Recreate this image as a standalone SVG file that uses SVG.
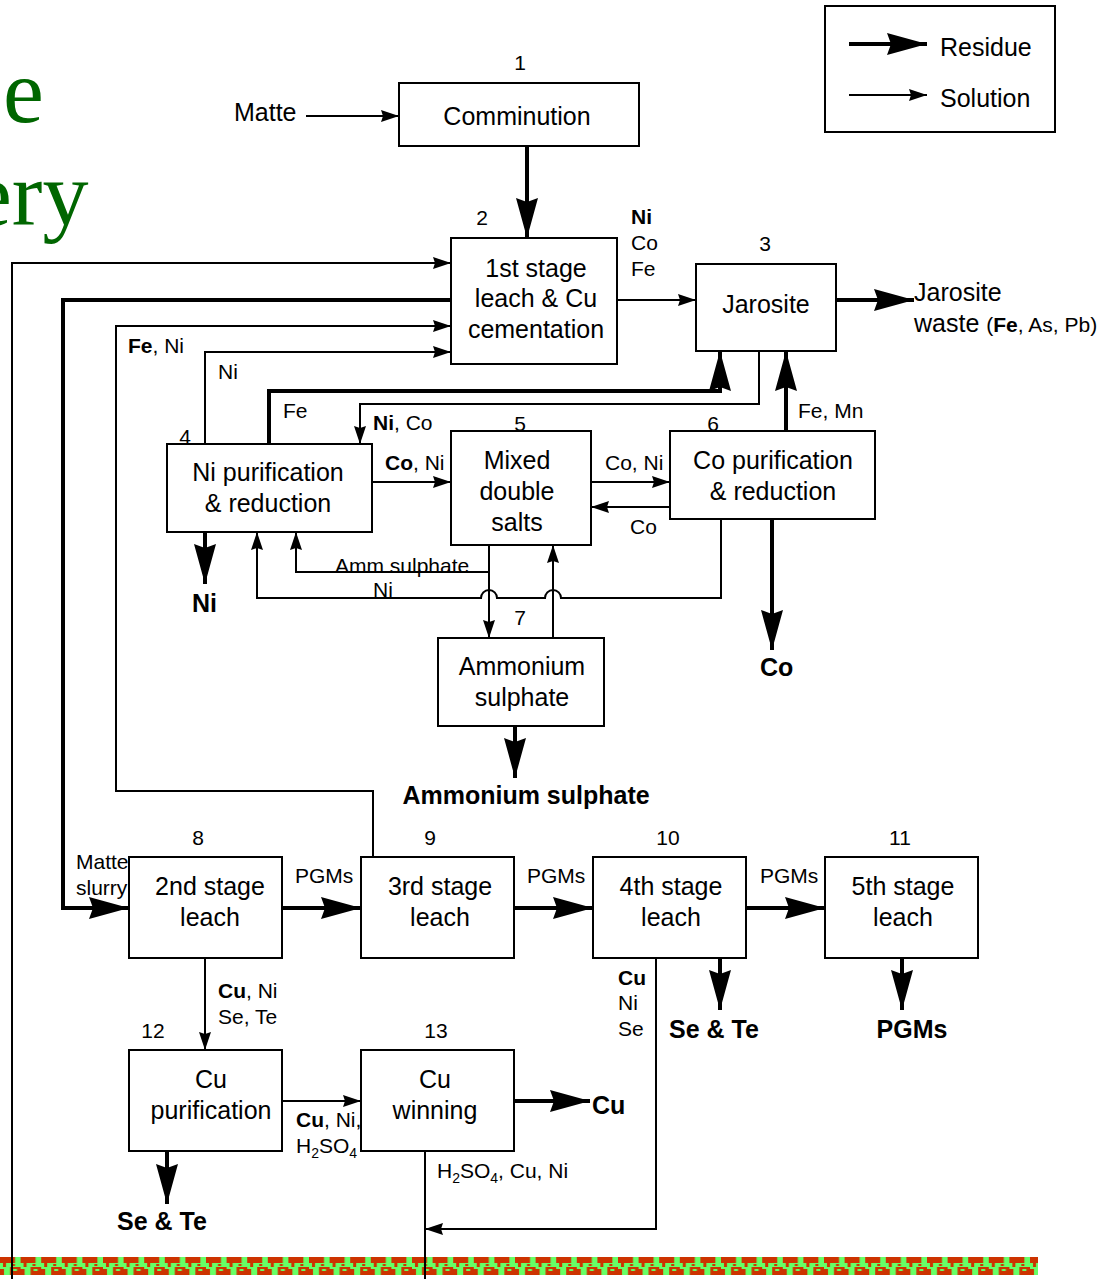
<svg xmlns="http://www.w3.org/2000/svg" width="1111" height="1279" viewBox="0 0 1111 1279">
<style>
.box{fill:#fff;stroke:#000;stroke-width:2}
.thin{fill:none;stroke:#000;stroke-width:2;marker-end:url(#as)}
.thick{fill:none;stroke:#000;stroke-width:4;marker-end:url(#ar)}
.ln{fill:none;stroke:#000;stroke-width:2}
text{font-family:"Liberation Sans",Arial,Helvetica,sans-serif;fill:#000}
.t{font-size:25px;text-anchor:middle}
.n{font-size:21px;text-anchor:middle}
.s{font-size:21px}
.b{font-size:25px;font-weight:bold}
.sub{font-size:14px}
.g{font-family:"Liberation Serif","Times New Roman",serif;font-size:92px;fill:#006600}
</style>
<defs>
<marker id="ar" markerUnits="userSpaceOnUse" markerWidth="42" markerHeight="24" viewBox="0 -12 42 24" refX="40" refY="0" orient="auto"><path d="M0,-11 L40,0 L0,11 L4,0 z" fill="#000"/></marker>
<marker id="as" markerUnits="userSpaceOnUse" markerWidth="20" markerHeight="14" viewBox="0 -7 20 14" refX="18" refY="0" orient="auto"><path d="M0,-6 L18,0 L0,6 L2,0 z" fill="#000"/></marker>
<pattern id="bd" patternUnits="userSpaceOnUse" x="0" y="1257" width="20.6" height="18">
<rect width="20.6" height="18" fill="#66ff66"/>
<rect x="0" y="0" width="15" height="6" fill="#cc3300"/>
<rect x="3" y="6" width="3" height="4" fill="#cc3300"/>
<rect x="12" y="7" width="3" height="2" fill="#cc3300"/>
<rect x="10" y="10" width="10.6" height="8" fill="#cc3300"/>
<rect x="13" y="12" width="4" height="2" fill="#66ff66"/>
<rect x="0" y="12" width="4" height="6" fill="#cc3300"/>
</pattern>
</defs>
<rect width="1111" height="1279" fill="#fff"/>
<text class="g" x="3" y="122">e</text>
<text class="g" x="-29" y="225">ery</text>
<rect x="0" y="1257" width="1038" height="18" fill="url(#bd)"/>

<g id="legend">
<rect x="825" y="6" width="230" height="126" fill="#fff" stroke="#000" stroke-width="2"/>
<path class="thick" d="M849,44 H927"/>
<path class="thin" d="M849,95 H927"/>
<text class="s" x="940" y="56" style="font-size:25px">Residue</text>
<text class="s" x="940" y="107" style="font-size:25px">Solution</text>
</g>

<g id="connectors">
<path class="thin" d="M306,116 H399"/>
<path class="thick" d="M527,146 V238"/>
<path class="thin" d="M617,300 H696"/>
<path class="thick" d="M836,300 H914"/>
<path class="thin" d="M12,1279 V263 H451"/>
<path class="thick" d="M451,300 H63 V908 H129"/>
<path class="thin" d="M373,857 V791 H116 V326 H451"/>
<path class="thin" d="M205,444 V352 H451"/>
<path class="thick" d="M269,444 V391 H720 V351"/>
<path class="thin" d="M759,351 V404 H360 V444"/>
<path class="thick" d="M786,431 V351"/>
<path class="thin" d="M372,482 H451"/>
<path class="thin" d="M591,482 H670"/>
<path class="thin" d="M670,507 H591"/>
<path class="thick" d="M205,532 V584"/>
<path class="thick" d="M772,519 V650"/>
<path class="thin" d="M489,545 V638"/>
<path class="thin" d="M489,572 H296 V532"/>
<path class="thin" d="M553,638 V545"/>
<path class="thin" d="M721,519 V598 H561 A8,8 0 0 0 545,598 H497 A8,8 0 0 0 481,598 H257 V532"/>
<path class="thick" d="M515,726 V778"/>
<path class="thick" d="M282,908 H361"/>
<path class="thick" d="M514,908 H593"/>
<path class="thick" d="M746,908 H825"/>
<path class="thick" d="M720,958 V1010"/>
<path class="thick" d="M902,958 V1010"/>
<path class="thin" d="M205,958 V1050"/>
<path class="thin" d="M282,1101 H361"/>
<path class="thick" d="M514,1101 H590"/>
<path class="thick" d="M167,1151 V1204"/>
<path class="thin" d="M656,958 V1229 H425"/>
<path class="ln" d="M425,1151 V1279"/>
</g>

<g id="labels">
<text class="s" x="234" y="121" style="font-size:25px">Matte</text>
<text class="s" x="631" y="224"><tspan font-weight="bold">Ni</tspan></text>
<text class="s" x="631" y="250">Co</text>
<text class="s" x="631" y="276">Fe</text>
<text class="s" x="914" y="301" style="font-size:25px">Jarosite</text>
<text class="s" x="914" y="332"><tspan style="font-size:25px">waste </tspan>(<tspan font-weight="bold">Fe</tspan>, As, Pb)</text>
<text class="s" x="128" y="353"><tspan font-weight="bold">Fe</tspan>, Ni</text>
<text class="s" x="218" y="379">Ni</text>
<text class="s" x="283" y="418">Fe</text>
<text class="s" x="373" y="430"><tspan font-weight="bold">Ni</tspan>, Co</text>
<text class="s" x="798" y="418">Fe, Mn</text>
<text class="s" x="385" y="470"><tspan font-weight="bold">Co</tspan>, Ni</text>
<text class="s" x="605" y="470">Co, Ni</text>
<text class="s" x="630" y="534">Co</text>
<text class="s" x="335" y="573">Amm sulphate</text>
<text class="s" x="373" y="597">Ni</text>
<text class="b" x="192" y="612">Ni</text>
<text class="b" x="760" y="676">Co</text>
<text class="b" x="526" y="804" text-anchor="middle">Ammonium sulphate</text>
<text class="s" x="76" y="869">Matte</text>
<text class="s" x="76" y="895">slurry</text>
<text class="s" x="295" y="883">PGMs</text>
<text class="s" x="527" y="883">PGMs</text>
<text class="s" x="760" y="883">PGMs</text>
<text class="s" x="218" y="998"><tspan font-weight="bold">Cu</tspan>, Ni</text>
<text class="s" x="218" y="1024">Se, Te</text>
<text class="s" x="618" y="985"><tspan font-weight="bold">Cu</tspan></text>
<text class="s" x="618" y="1010">Ni</text>
<text class="s" x="618" y="1036">Se</text>
<text class="b" x="669" y="1038">Se &amp; Te</text>
<text class="b" x="912" y="1038" text-anchor="middle">PGMs</text>
<text class="s" x="296" y="1127"><tspan font-weight="bold">Cu</tspan>, Ni,</text>
<text class="s" x="296" y="1153">H<tspan class="sub" dy="5">2</tspan><tspan dy="-5">SO</tspan><tspan class="sub" dy="5">4</tspan></text>
<text class="b" x="592" y="1114">Cu</text>
<text class="s" x="437" y="1178">H<tspan class="sub" dy="5">2</tspan><tspan dy="-5">SO</tspan><tspan class="sub" dy="5">4</tspan><tspan dy="-5">, Cu, Ni</tspan></text>
<text class="b" x="162" y="1230" text-anchor="middle">Se &amp; Te</text>
</g>

<g id="n1"><rect class="box" x="399" y="83" width="240" height="63"/><text class="n" x="520" y="70">1</text><text class="t" x="517" y="125">Comminution</text></g>
<g id="n2"><rect class="box" x="451" y="238" width="166" height="126"/><text class="n" x="482" y="225">2</text><text class="t" x="536" y="277">1st stage</text><text class="t" x="536" y="307">leach &amp; Cu</text><text class="t" x="536" y="338">cementation</text></g>
<g id="n3"><rect class="box" x="696" y="264" width="140" height="87"/><text class="n" x="765" y="251">3</text><text class="t" x="766" y="313">Jarosite</text></g>
<g id="n4"><rect class="box" x="167" y="444" width="205" height="88"/><text class="n" x="185" y="444">4</text><text class="t" x="268" y="481">Ni purification</text><text class="t" x="268" y="512">&amp; reduction</text></g>
<g id="n5"><rect class="box" x="451" y="431" width="140" height="114"/><text class="n" x="520" y="431">5</text><text class="t" x="517" y="469">Mixed</text><text class="t" x="517" y="500">double</text><text class="t" x="517" y="531">salts</text></g>
<g id="n6"><rect class="box" x="670" y="431" width="205" height="88"/><text class="n" x="713" y="431">6</text><text class="t" x="773" y="469">Co purification</text><text class="t" x="773" y="500">&amp; reduction</text></g>
<g id="n7"><rect class="box" x="438" y="638" width="166" height="88"/><text class="n" x="520" y="625">7</text><text class="t" x="522" y="675">Ammonium</text><text class="t" x="522" y="706">sulphate</text></g>
<g id="n8"><rect class="box" x="129" y="857" width="153" height="101"/><text class="n" x="198" y="845">8</text><text class="t" x="210" y="895">2nd stage</text><text class="t" x="210" y="926">leach</text></g>
<g id="n9"><rect class="box" x="361" y="857" width="153" height="101"/><text class="n" x="430" y="845">9</text><text class="t" x="440" y="895">3rd stage</text><text class="t" x="440" y="926">leach</text></g>
<g id="n10"><rect class="box" x="593" y="857" width="153" height="101"/><text class="n" x="668" y="845">10</text><text class="t" x="671" y="895">4th stage</text><text class="t" x="671" y="926">leach</text></g>
<g id="n11"><rect class="box" x="825" y="857" width="153" height="101"/><text class="n" x="900" y="845">11</text><text class="t" x="903" y="895">5th stage</text><text class="t" x="903" y="926">leach</text></g>
<g id="n12"><rect class="box" x="129" y="1050" width="153" height="101"/><text class="n" x="153" y="1038">12</text><text class="t" x="211" y="1088">Cu</text><text class="t" x="211" y="1119">purification</text></g>
<g id="n13"><rect class="box" x="361" y="1050" width="153" height="101"/><text class="n" x="436" y="1038">13</text><text class="t" x="435" y="1088">Cu</text><text class="t" x="435" y="1119">winning</text></g>
</svg>
